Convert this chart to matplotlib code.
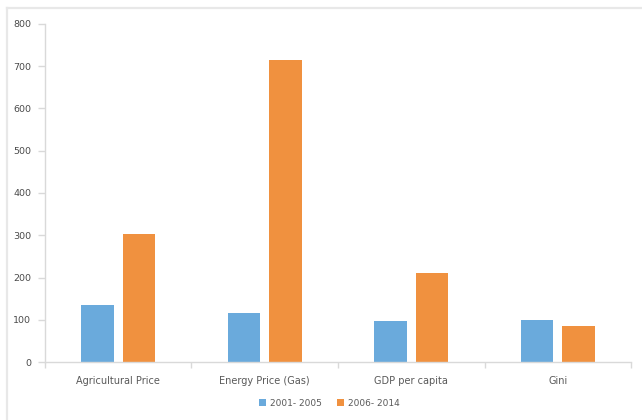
import matplotlib.pyplot as plt
import numpy as np

categories = ["Agricultural Price", "Energy Price (Gas)", "GDP per capita", "Gini"]
series_names = ["2001- 2005", "2006- 2014"]
values_2001_2005 = [136, 117, 97, 100]
values_2006_2014 = [303, 715, 210, 85]
y_ticks = [0, 100, 200, 300, 400, 500, 600, 700, 800]

blue = "#6AAADC"
orange = "#F0913F"
grey_text = "#595959"
axis_grey = "#D9D9D9"

fig = plt.figure(figsize=(6.42, 4.2), dpi=100)
ax = fig.add_axes([0.070, 0.138, 0.913, 0.805])

x = np.arange(len(categories))
w = 0.222
off = 0.142
ax.bar(x - off, values_2001_2005, w, color=blue, label=series_names[0])
ax.bar(x + off, values_2006_2014, w, color=orange, label=series_names[1])

ax.set_xlim(-0.5, len(categories) - 0.5)
ax.set_ylim(0, 800)
ax.set_yticks(y_ticks)
ax.set_yticklabels([str(t) for t in y_ticks])

# category labels centred, ticks at the boundaries
ax.set_xticks(x)
ax.set_xticklabels(categories)
ax.set_xticks(np.arange(len(categories) + 1) - 0.5, minor=True)
ax.tick_params(axis="x", which="major", length=0, pad=10, labelsize=7, labelcolor=grey_text)
ax.tick_params(axis="x", which="minor", length=4, color=axis_grey, width=1)
ax.tick_params(axis="y", length=5, color=axis_grey, width=1, pad=5, labelsize=6.8, labelcolor="#4A4A4A")

for s in ["top", "right"]:
    ax.spines[s].set_visible(False)
for s in ["left", "bottom"]:
    ax.spines[s].set_color(axis_grey)
    ax.spines[s].set_linewidth(1)

leg = fig.legend(loc="center", bbox_to_anchor=(0.513, 0.04), ncol=2, frameon=False,
                 fontsize=6.5, handlelength=0.8, handleheight=0.8, handletextpad=0.5,
                 columnspacing=1.6, borderaxespad=0)
for t in leg.get_texts():
    t.set_color(grey_text)

# light border on top and left like the original export
fig.add_artist(plt.Line2D([0.011, 0.011], [0, 0.981], color="#E8E8E8", lw=1.6))
fig.add_artist(plt.Line2D([0.011, 1.0], [0.981, 0.981], color="#E8E8E8", lw=1.6))

fig.savefig("out.png", dpi=100)
